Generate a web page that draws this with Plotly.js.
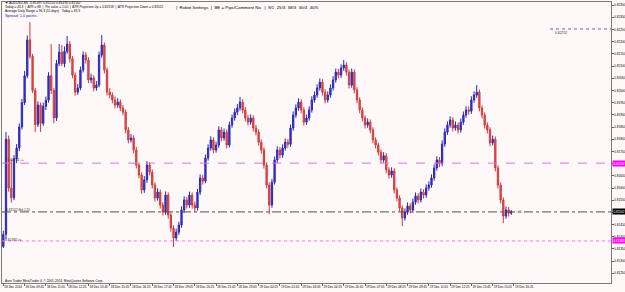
<!DOCTYPE html>
<html>
<head>
<meta charset="utf-8">
<script src="https://cdn.plot.ly/plotly-3.0.1.min.js"></script>
<style>
html,body{margin:0;padding:0;background:#fff8f8;}
#chart{width:625px;height:292px;}
</style>
</head>
<body>
<div id="chart"></div>
<script>
// ---- data (AUDUSD) ----
const OPEN = [
0.81360,0.81410,0.81800,0.81600,0.81560,0.81720,0.81764,0.81850,0.81950,0.82060,
0.82207,0.82140,0.82000,0.81860,0.81940,0.81865,0.81935,0.81960,0.82060,0.82000,
0.81887,0.82110,0.82157,0.82110,0.82160,0.82190,0.82130,0.82063,0.81993,0.82010,
0.82084,0.82145,0.82125,0.82043,0.82051,0.82010,0.82022,0.82145,0.82186,0.82084,
0.81993,0.81981,0.81961,0.81940,0.81952,0.81928,0.81911,0.81838,0.81797,0.81805,
0.81756,0.81694,0.81653,0.81592,0.81633,0.81694,0.81665,0.81612,0.81559,0.81583,
0.81530,0.81501,0.81571,0.81489,0.81436,0.81395,0.81419,0.81448,0.81510,0.81551,
0.81530,0.81571,0.81530,0.81518,0.81583,0.81641,0.81628,0.81723,0.81764,0.81797,
0.81756,0.81776,0.81838,0.81805,0.81829,0.81776,0.81858,0.81887,0.81911,0.81928,
0.81952,0.81920,0.81887,0.81870,0.81887,0.81846,0.81829,0.81788,0.81756,0.81694,
0.81612,0.81530,0.81624,0.81715,0.81756,0.81735,0.81764,0.81788,0.81779,0.81846,
0.81899,0.81928,0.81952,0.81920,0.81870,0.81887,0.81920,0.81961,0.81981,0.82010,
0.82034,0.81993,0.81961,0.81981,0.82010,0.82043,0.82075,0.82063,0.82092,0.82104,
0.82075,0.82022,0.82075,0.82002,0.81961,0.81920,0.81887,0.81858,0.81870,0.81838,
0.81797,0.81776,0.81747,0.81715,0.81732,0.81674,0.81653,0.81670,0.81592,0.81559,
0.81518,0.81477,0.81501,0.81526,0.81510,0.81542,0.81567,0.81551,0.81583,0.81571,
0.81600,0.81612,0.81641,0.81682,0.81715,0.81700,0.81780,0.81829,0.81858,0.81879,
0.81846,0.81858,0.81838,0.81870,0.81899,0.81920,0.81915,0.81961,0.81981,0.81993,
0.81928,0.81899,0.81858,0.81838,0.81785,0.81800,0.81682,0.81612,0.81551,0.81485,
0.81510,0.81497];
const HIGH = [
0.81425,0.81830,0.81815,0.81715,0.81735,0.81780,0.81865,0.81965,0.82080,0.82225,
0.82280,0.82150,0.82010,0.81955,0.81950,0.81950,0.81975,0.82075,0.82190,0.82010,
0.82125,0.82190,0.82186,0.82180,0.82223,0.82202,0.82140,0.82074,0.82026,0.82098,
0.82160,0.82157,0.82136,0.82068,0.82062,0.82038,0.82159,0.82227,0.82197,0.82094,
0.82009,0.81992,0.81975,0.81968,0.81963,0.81940,0.81922,0.81850,0.81821,0.81816,
0.81768,0.81705,0.81664,0.81649,0.81710,0.81706,0.81676,0.81623,0.81599,0.81594,
0.81542,0.81586,0.81582,0.81500,0.81447,0.81434,0.81462,0.81525,0.81566,0.81563,
0.81585,0.81582,0.81544,0.81596,0.81656,0.81654,0.81737,0.81779,0.81812,0.81808,
0.81790,0.81853,0.81850,0.81844,0.81840,0.81872,0.81901,0.81926,0.81944,0.81973,
0.81964,0.81932,0.81900,0.81902,0.81898,0.81859,0.81840,0.81799,0.81767,0.81705,
0.81623,0.81638,0.81729,0.81771,0.81768,0.81779,0.81803,0.81801,0.81860,0.81914,
0.81943,0.81968,0.81964,0.81931,0.81901,0.81935,0.81976,0.81996,0.82025,0.82049,
0.82046,0.82005,0.81996,0.82025,0.82058,0.82090,0.82088,0.82107,0.82125,0.82116,
0.82086,0.82090,0.82086,0.82013,0.81972,0.81931,0.81898,0.81885,0.81881,0.81849,
0.81808,0.81787,0.81758,0.81747,0.81743,0.81685,0.81685,0.81681,0.81603,0.81570,
0.81529,0.81516,0.81541,0.81538,0.81557,0.81582,0.81579,0.81598,0.81595,0.81615,
0.81627,0.81656,0.81697,0.81730,0.81727,0.81795,0.81844,0.81873,0.81894,0.81890,
0.81873,0.81869,0.81885,0.81914,0.81935,0.81934,0.81976,0.81996,0.82022,0.82004,
0.81939,0.81910,0.81869,0.81849,0.81815,0.81811,0.81693,0.81623,0.81562,0.81525,
0.81522,0.81510];
const LOW = [
0.81354,0.81390,0.81585,0.81540,0.81550,0.81702,0.81751,0.81840,0.81940,0.82050,
0.82130,0.81990,0.81830,0.81850,0.81830,0.81855,0.81920,0.81950,0.81985,0.81865,
0.81875,0.82100,0.82100,0.82095,0.82150,0.82115,0.82050,0.81978,0.81982,0.82001,
0.82074,0.82110,0.82030,0.82029,0.81996,0.81999,0.82013,0.82134,0.82070,0.81979,
0.81968,0.81947,0.81926,0.81929,0.81915,0.81898,0.81824,0.81783,0.81786,0.81742,
0.81680,0.81639,0.81576,0.81580,0.81621,0.81652,0.81598,0.81544,0.81548,0.81516,
0.81487,0.81490,0.81474,0.81421,0.81358,0.81382,0.81408,0.81437,0.81499,0.81516,
0.81519,0.81515,0.81503,0.81507,0.81571,0.81614,0.81619,0.81712,0.81753,0.81742,
0.81745,0.81765,0.81791,0.81794,0.81762,0.81766,0.81847,0.81876,0.81899,0.81917,
0.81906,0.81873,0.81856,0.81859,0.81832,0.81815,0.81774,0.81741,0.81680,0.81598,
0.81493,0.81519,0.81614,0.81703,0.81721,0.81724,0.81753,0.81765,0.81769,0.81835,
0.81888,0.81917,0.81906,0.81856,0.81859,0.81876,0.81909,0.81950,0.81970,0.81999,
0.81979,0.81947,0.81950,0.81970,0.81999,0.82032,0.82050,0.82052,0.82081,0.82061,
0.82008,0.82011,0.81988,0.81947,0.81906,0.81873,0.81844,0.81847,0.81824,0.81783,
0.81762,0.81733,0.81701,0.81704,0.81660,0.81639,0.81642,0.81578,0.81545,0.81504,
0.81444,0.81466,0.81490,0.81496,0.81499,0.81531,0.81537,0.81540,0.81557,0.81560,
0.81589,0.81601,0.81630,0.81671,0.81686,0.81689,0.81769,0.81818,0.81847,0.81832,
0.81835,0.81824,0.81827,0.81859,0.81888,0.81901,0.81904,0.81950,0.81970,0.81914,
0.81885,0.81844,0.81824,0.81771,0.81774,0.81668,0.81598,0.81537,0.81456,0.81474,
0.81483,0.81490];
const CLOSE = [
0.81410,0.81800,0.81600,0.81560,0.81720,0.81764,0.81850,0.81950,0.82060,0.82207,
0.82140,0.82000,0.81860,0.81940,0.81865,0.81935,0.81960,0.82060,0.82000,0.81887,
0.82110,0.82157,0.82110,0.82160,0.82190,0.82130,0.82063,0.81993,0.82010,0.82084,
0.82145,0.82125,0.82043,0.82051,0.82010,0.82022,0.82145,0.82186,0.82084,0.81993,
0.81981,0.81961,0.81940,0.81952,0.81928,0.81911,0.81838,0.81797,0.81805,0.81756,
0.81694,0.81653,0.81592,0.81633,0.81694,0.81665,0.81612,0.81559,0.81583,0.81530,
0.81501,0.81571,0.81489,0.81436,0.81395,0.81419,0.81448,0.81510,0.81551,0.81530,
0.81571,0.81530,0.81518,0.81583,0.81641,0.81628,0.81723,0.81764,0.81797,0.81756,
0.81776,0.81838,0.81805,0.81829,0.81776,0.81858,0.81887,0.81911,0.81928,0.81952,
0.81920,0.81887,0.81870,0.81887,0.81846,0.81829,0.81788,0.81756,0.81694,0.81612,
0.81530,0.81624,0.81715,0.81756,0.81735,0.81764,0.81788,0.81779,0.81846,0.81899,
0.81928,0.81952,0.81920,0.81870,0.81887,0.81920,0.81961,0.81981,0.82010,0.82034,
0.81993,0.81961,0.81981,0.82010,0.82043,0.82075,0.82063,0.82092,0.82104,0.82075,
0.82022,0.82075,0.82002,0.81961,0.81920,0.81887,0.81858,0.81870,0.81838,0.81797,
0.81776,0.81747,0.81715,0.81732,0.81674,0.81653,0.81670,0.81592,0.81559,0.81518,
0.81477,0.81501,0.81526,0.81510,0.81542,0.81567,0.81551,0.81583,0.81571,0.81600,
0.81612,0.81641,0.81682,0.81715,0.81700,0.81780,0.81829,0.81858,0.81879,0.81846,
0.81858,0.81838,0.81870,0.81899,0.81920,0.81915,0.81961,0.81981,0.81993,0.81928,
0.81899,0.81858,0.81838,0.81785,0.81800,0.81682,0.81612,0.81551,0.81485,0.81510,
0.81497,0.81502];

const TIME_LABELS = ["18 Dec 2014","18 Dec 09:45","18 Dec 11:05","18 Dec 12:25","18 Dec 13:45",
"18 Dec 15:05","18 Dec 16:25","18 Dec 17:45","18 Dec 19:05","18 Dec 20:25","18 Dec 21:45",
"18 Dec 23:05","19 Dec 00:25","19 Dec 01:45","19 Dec 03:05","19 Dec 04:25","19 Dec 05:45",
"19 Dec 07:05","19 Dec 08:25","19 Dec 09:45","19 Dec 11:05","19 Dec 12:25","19 Dec 13:45",
"19 Dec 15:05","19 Dec 16:25"];
const BARS_PER_LABEL = 8;

const LEVEL_HI = 0.81702;   // magenta dashed
const LEVEL_BID = 0.81502;  // black dash-dot (current price)
const LEVEL_LO = 0.81383;   // magenta dotted
const LEVEL_TARGET = 0.82252; // blue dotted (top right)

// ---- build ----
const idx = CLOSE.map((_, i) => i);
const tickvals = TIME_LABELS.map((_, k) => k * BARS_PER_LABEL);

const FONT = "Liberation Sans, Arial, sans-serif";
const L = 2, R = 611, T = 2, B = 283;
const px = x => (x - L) / (R - L);
const py = y => (B - y) / (B - T);
function txt(x, y, text, size, color, extra) {
  return Object.assign({xref:'paper', yref:'paper', x:px(x), y:py(y), text:text, showarrow:false,
    xanchor:'left', yanchor:'middle', font:{family:FONT, size:size, color:color||'#000'}}, extra||{});
}
function priceBox(v, bg) {
  return {xref:'paper', yref:'y', x:1, y:v, text:v.toFixed(5), showarrow:false, xanchor:'left', yanchor:'middle',
    bgcolor:bg, font:{family:FONT, size:3, color:'#fff'}, borderpad:0.5, xshift:1};
}

const trace = {
  type:'candlestick', x:idx, open:OPEN, high:HIGH, low:LOW, close:CLOSE,
  increasing:{line:{color:'#2a2ab4', width:1}, fillcolor:'#3838c8'},
  decreasing:{line:{color:'#d03a3a', width:1}, fillcolor:'#e05858'},
  whiskerwidth:0, hoverinfo:'skip', showlegend:false
};

const layout = {
  width:625, height:292,
  margin:{l:L, r:625-R, t:T, b:292-B, pad:0},
  paper_bgcolor:'#fff8f8', plot_bgcolor:'#fff8f8',
  showlegend:false,
  xaxis:{range:[-0.5, 228.5], rangeslider:{visible:false}, showgrid:false, zeroline:false,
    tickmode:'array', tickvals:tickvals, ticktext:TIME_LABELS, ticks:'outside', ticklen:1.5, tickcolor:'#666',
    tickangle:0, ticklabelposition:'outside right', tickfont:{family:FONT, size:3.1, color:'#000'},
    showline:true, linecolor:'#7a7a7a', linewidth:1, mirror:true, automargin:false, fixedrange:true},
  yaxis:{range:[0.812106, 0.823625], side:'right', showgrid:false, zeroline:false,
    tick0:0.8120, dtick:0.0005, tickformat:'.5f', ticks:'outside', ticklen:1.5, tickcolor:'#666',
    tickfont:{family:FONT, size:3.1, color:'#000'},
    showline:true, linecolor:'#7a7a7a', linewidth:1, mirror:true, automargin:false, fixedrange:true},
  shapes:[
    {type:'line', xref:'paper', yref:'y', x0:0, x1:1, y0:LEVEL_HI, y1:LEVEL_HI, line:{color:'#e070e0', width:1, dash:'dash'}},
    {type:'line', xref:'paper', yref:'y', x0:0, x1:1, y0:LEVEL_BID, y1:LEVEL_BID, line:{color:'#505050', width:1, dash:'dashdot'}},
    {type:'line', xref:'paper', yref:'y', x0:0, x1:1, y0:LEVEL_LO, y1:LEVEL_LO, line:{color:'#ff70ff', width:1, dash:'dot'}},
    {type:'line', xref:'paper', yref:'y', x0:px(550), x1:1, y0:LEVEL_TARGET, y1:LEVEL_TARGET, line:{color:'#6060d0', width:1, dash:'dot'}}
  ],
  annotations:[
    txt(3, 3, '▼ AUDUSD,M5  0.81497 0.81510 0.81490 0.81502', 3.3),
    txt(3, 7.5, 'Today = 43.3  |  ATR = 88  |  Pin value = 1.00  |  ATR Projection Up = 0.82318  |  ATR Projection Down = 0.81522', 3.2),
    txt(174, 7.5, '|  Robot Settings  |  BE = Pips/Comment No.  |  8/1  25/3  58/3  30/4  40/5', 4.4),
    txt(3, 11.5, 'Average Daily Range = 96.3 (10 days)   Today = 43.3', 3.2),
    txt(3, 15.5, 'Spread: 1.0 points.', 3.9, '#1010d0'),
    txt(3, 280.5, 'Auro Trader MetaTrader 4, © 2001-2014, MetaQuotes Software Corp.', 3.2),
    txt(3, 159.5, '# 0.81702 ++', 3.2, '#333'),
    txt(4, 209.5, '0.81502 Bid 1.20', 3.2, '#333'),
    txt(3, 239.5, '0.81383 Lo', 3.2, '#333'),
    txt(553, 32.5, '0.82252', 3.4, '#333'),
    txt(514, 211.5, '1.20', 3.2, '#999'),
    priceBox(LEVEL_HI, '#ff00ff'),
    priceBox(LEVEL_BID, '#000000'),
    priceBox(LEVEL_LO, '#ff00ff')
  ]
};

Plotly.newPlot('chart', [trace], layout, {staticPlot:true, displayModeBar:false});
</script>
</body>
</html>
